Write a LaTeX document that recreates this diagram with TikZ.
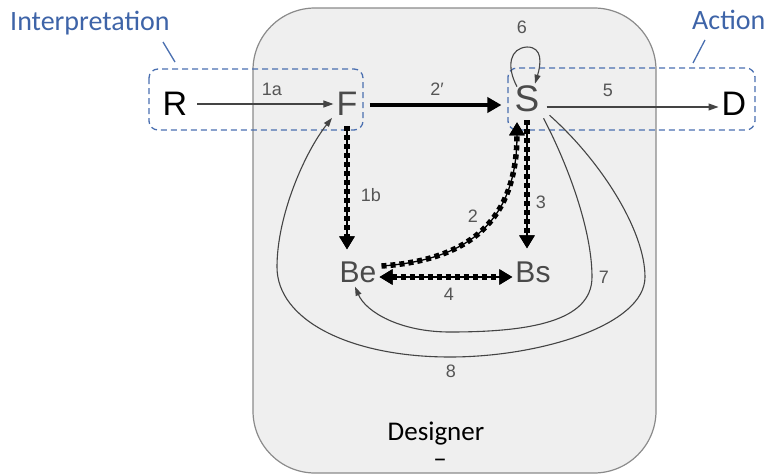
\documentclass[tikz,border=0pt]{standalone}
\usepackage{fontspec}
\setmainfont{Liberation Sans}
\newfontfamily\calib{Carlito}
\usetikzlibrary{arrows.meta,calc}
\definecolor{boxgray}{HTML}{EFEFEF}
\definecolor{boxline}{HTML}{8A8A8A}
\definecolor{bluedash}{HTML}{4A6FB0}
\definecolor{bluetext}{HTML}{3E64A8}
\definecolor{labgray}{HTML}{555555}
\definecolor{lettergray}{HTML}{4A4A4A}
\definecolor{thinline}{HTML}{444444}
\tikzset{
  letter/.style={inner sep=0pt, font=\fontsize{34}{34}\selectfont},
  lab/.style={inner sep=0pt, text=labgray, font=\fontsize{18}{18}\selectfont},
  grouptext/.style={inner sep=0pt, anchor=base west, text=bluetext, font=\calib\fontsize{28}{28}\selectfont},
  groupbox/.style={draw=bluedash, line width=1.3pt, dash pattern=on 6pt off 4pt, rounded corners=9pt},
  thinarrow/.style={draw=thinline, line width=1.1pt, -{Triangle[width=7pt,length=10pt]}},
  thinarc/.style={draw=thinline, line width=1.1pt, -{Triangle[width=6pt,length=9pt]}},
  thickarrow/.style={draw=black, line width=4.5pt, -{Triangle[width=15pt,length=14pt]}},
  chain/.style={draw=black, line width=5.5pt, dash pattern=on 5pt off 4pt,
     preaction={draw=black, line width=1.3pt, solid}},
  chaintip/.style={-{Triangle[width=15pt,length=13pt]}},
  chaintips/.style={{Triangle[width=15pt,length=13pt]}-{Triangle[width=15pt,length=13pt]}}
}
\begin{document}
\begin{tikzpicture}[x=1pt,y=-1pt]
\useasboundingbox (0,0) rectangle (772,474);
% designer box
\draw[fill=boxgray, draw=boxline, line width=1.2pt, rounded corners=62pt] (253,8) rectangle (656,473);
% group boxes
\draw[groupbox] (149,69) rectangle (363,130);
\draw[groupbox] (508,68) rectangle (755,130);
\node[grouptext] (interp) at (10,30) {Interpretation};
\node[grouptext] (action) at (692,29) {Action};
\coordinate (ia) at (163,42);
\coordinate (ib) at (175,62);
\coordinate (aa) at (705,40);
\coordinate (ab) at (693,63);
\draw[draw=bluedash, line width=1.3pt] (ia) -- (ib);
\draw[draw=bluedash, line width=1.3pt] (aa) -- (ab);
% letters
\node[letter, text=black] (R) at (175,104) {R};
\node[letter, text=lettergray] (F) at (347,104) {F};
\node[letter, text=lettergray, font=\fontsize{37}{37}\selectfont] (S) at (527,99) {S};
\node[letter, text=black] (D) at (734,104) {D};
\node[letter, text=lettergray, font=\fontsize{30}{30}\selectfont] (Be) at (358,272) {Be};
\node[letter, text=lettergray, font=\fontsize{30}{30}\selectfont] (Bs) at (533,272) {Bs};
% 1a, 2', 5
\draw[thinarrow] ($(R.east)+(10,0)$) -- ($(F.west)+(-3,0)$);
\draw[thickarrow] ($(F.east)+(12,1)$) -- ($(S.west)+(-13,6)$);
\draw[thinarrow] ($(S.east)+(7,8)$) -- ($(D.west)+(-3,3)$);
% loop 6
\draw[thinarc] ($(S.north)+(-10,1)$) .. controls (506,66) and (510,48) .. (527,47) .. controls (543,47) and (541,64) .. ($(S.north)+(8,-2)$);
% 1b, 3
\draw[chain, chaintip] ($(F.south)+(0,10)$) -- ($(Be.north)+(-11,-12)$);
\draw[chain, chaintip] ($(S.south)+(0,8)$) -- ($(Bs.north)+(-6,-13)$);
% 2
\draw[chain, chaintip] ($(Be.east)+(5,-6)$) .. controls (470,260) and (517,220) .. ($(S.south)+(-10,10)$);
% 4
\draw[chain, chaintips] ($(Be.east)+(3,5)$) -- ($(Bs.west)+(-3,5)$);
% 7
\draw[thinarc] ($(S.south east)+(4,6)$) .. controls (568,165) and (592,230) .. (592,277) .. controls (592,322) and (528,332) .. (450,332) .. controls (400,332) and (366,312) .. ($(Be.south)+(-3,4)$);
% 8
\draw[thinarc] ($(S.south east)+(10,3)$) .. controls (600,160) and (645,230) .. (645,277) .. controls (645,325) and (540,357) .. (450,357) .. controls (350,357) and (277,320) .. (277,267) .. controls (277,215) and (305,152) .. ($(F.south)+(-15,2)$);
% labels
\node[lab] (l1a) at (272,89) {1a};
\node[lab] (l2p) at (437,89) {2′};
\node[lab] (l5) at (608,90) {5};
\node[lab] (l6) at (522,27) {6};
\node[lab] (l1b) at (371,195) {1b};
\node[lab] (l2) at (473,216) {2};
\node[lab] (l3) at (541,202) {3};
\node[lab] (l4) at (449,294) {4};
\node[lab] (l7) at (604,277) {7};
\node[lab] (l8) at (451,371) {8};
% designer
\node[inner sep=0pt, anchor=base, font=\calib\fontsize{27}{27}\selectfont] (designer) at (436,440) {Designer};
\node[inner sep=0pt, font=\calib\fontsize{27}{27}\selectfont] (dash) at (440,463) {–};
\end{tikzpicture}
\end{document}
